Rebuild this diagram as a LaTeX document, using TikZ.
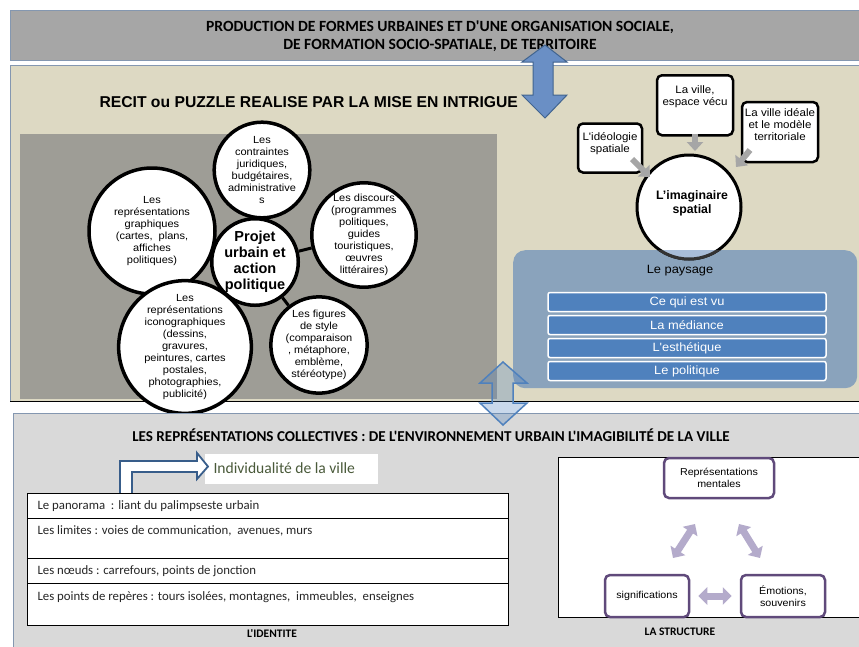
\documentclass[tikz,border=0pt]{standalone}
\usepackage{fontspec}
\setmainfont{Liberation Sans}
\newfontfamily\calib{Carlito}
\newfontfamily\wsans[FakeStretch=1.07]{Liberation Sans}
\usetikzlibrary{arrows.meta,backgrounds}
\definecolor{topgray}{HTML}{A6A6A6}
\definecolor{bandedge}{HTML}{8497B0}
\definecolor{beige}{HTML}{DDD9C3}
\definecolor{innergray}{HTML}{9E9D96}
\definecolor{paysage}{HTML}{8AA3BC}
\definecolor{barblue}{HTML}{4F81BD}
\definecolor{arrowblue}{HTML}{6A8FC5}
\definecolor{arrowedge}{HTML}{41648F}
\definecolor{lowgray}{HTML}{D9D9D9}
\definecolor{purp}{HTML}{604A7B}
\definecolor{lav}{HTML}{B4ABCB}
\definecolor{greentxt}{HTML}{4A5A3A}
\definecolor{darkblue}{HTML}{385D8A}
\definecolor{lightcirc}{HTML}{A8BDD8}
\tikzset{
  bub/.style={circle,draw=black,line width=3.5pt,fill=white,inner sep=0pt,align=center,font=\wsans\fontsize{10.3}{12}\selectfont},
  link/.style={line width=3pt,black},
  ibox/.style={rectangle,rounded corners=5pt,draw=black,line width=2.5pt,fill=white,align=center,inner sep=0pt},
  itext/.style={font=\wsans\fontsize{10.8}{12}\selectfont,align=center},
  bar/.style={rectangle,rounded corners=2pt,draw=white,line width=1.5pt,fill=barblue,text=white,minimum width=278pt,minimum height=19pt,inner sep=0pt,font=\wsans\fontsize{12}{14}\selectfont},
  pbox/.style={rectangle,rounded corners=5pt,draw=purp,line width=2.5pt,fill=white,align=center,inner sep=0pt,font=\wsans\fontsize{10}{11.5}\selectfont},
  grayarr/.style={line width=6pt,topgray,-{Triangle[width=16pt,length=9pt]}},
  lavarr/.style={line width=7pt,lav,{Triangle[width=17pt,length=9pt]}-{Triangle[width=17pt,length=9pt]}},
  rowtxt/.style={anchor=west,font=\calib\fontsize{12.8}{14}\selectfont,text=black!85}
}
\begin{document}
\begin{tikzpicture}[x=1pt,y=-1pt]
\useasboundingbox (0,0) rectangle (859,646);
% top band
\fill[white] (0,0) rectangle (859,646);
\draw[bandedge,fill=topgray,line width=1pt] (10,10) rectangle (875,60);
\node[font=\calib\bfseries\fontsize{15.6}{18}\selectfont,align=center] (toptitle) at (440,36) {PRODUCTION DE FORMES URBAINES ET D'UNE ORGANISATION SOCIALE,\\DE FORMATION SOCIO-SPATIALE, DE TERRITOIRE};
% beige panel
\draw[bandedge,fill=beige,line width=1pt] (10,65) rectangle (875,401);
\draw[black,line width=1pt] (10,401) -- (859,401);
\node[font=\bfseries\fontsize{15.7}{18}\selectfont,anchor=west] (recit) at (96,102) {RECIT ou PUZZLE REALISE PAR LA MISE EN INTRIGUE};
\fill[innergray] (20,134) rectangle (497,399);
% circles
\node[bub,minimum size=76pt,font=\bfseries\fontsize{14.5}{16}\selectfont] (proj) at (255,262) {Projet\\urbain et\\action\\politique};
\node[bub,minimum size=90pt] (cont) at (262,170) {Les\\contraintes\\juridiques,\\budgétaires,\\administrative\\s};
\node[bub,minimum size=126pt] (graph) at (152,231) {Les\\représentations\\graphiques\\(cartes,\ \ plans,\\affiches\\politiques)};
\node[bub,minimum size=96pt] (disc) at (364,235) {Les discours\\(programmes\\politiques,\\guides\\touristiques,\\œuvres\\littéraires)};
\node[bub,minimum size=122pt] (icon) at (185,347) {Les\\représentations\\iconographiques\\(dessins,\\gravures,\\peintures, cartes\\postales,\\photographies,\\publicité)};
\node[bub,minimum size=94pt] (fig) at (319,345) {Les figures\\de style\\(comparaison\\, métaphore,\\emblème,\\stéréotype)};
\draw[link] (proj) -- (cont);
\draw[link] (proj) -- (graph);
\draw[link] (proj) -- (disc);
\draw[link] (proj) -- (icon);
\draw[link] (proj) -- (fig);
% paysage panel
\node[rectangle,rounded corners=12pt,fill=paysage,minimum width=344pt,minimum height=138pt,anchor=north west,inner sep=0pt] (pay) at (513,250) {};
% imaginaire circle
\node[circle,draw=black,line width=3pt,fill=white,minimum size=104pt,inner sep=0pt] (imag) at (689,207) {};
\begin{scope}
\clip[rounded corners=12pt] (513,250) rectangle (857,388);
\fill[lightcirc] (imag.center) circle (52pt);
\draw[black!80,line width=3pt] (imag.center) circle (52pt);
\end{scope}
\node[font=\bfseries\fontsize{12.3}{14}\selectfont,align=center] (imagt) at (692,203) {L'imaginaire\\spatial};
\node[font=\wsans\fontsize{12}{14}\selectfont] (paylabel) at (680,271) {Le paysage};
\node[bar] (b1) at (687,302) {Ce qui est vu};
\node[bar] (b2) at (687,325) {La médiance};
\node[bar] (b3) at (687,348) {L'esthétique};
\node[bar] (b4) at (687,371) {Le politique};
% boxes around imaginaire
\node[ibox,minimum width=64pt,minimum height=49pt] (ideo) at (610,148) {};
\node[itext] (ideot) at (610,144) {L'idéologie\\spatiale};
\node[ibox,minimum width=76pt,minimum height=60pt,anchor=north] (vecu) at (695,74) {};
\node[itext] (vecut) at (695,97) {La ville,\\espace vécu};
\node[ibox,minimum width=76pt,minimum height=60pt] (ideale) at (780,132) {};
\node[itext] (idealet) at (780,125) {La ville idéale\\et le modèle\\territoriale};
\coordinate (ga1) at (632,159);
\coordinate (ga1e) at (650,177);
\draw[grayarr] (ga1) -- (ga1e);
\coordinate (ga2) at (695,134);
\coordinate (ga2e) at (695,151);
\draw[grayarr] (ga2) -- (ga2e);
\coordinate (ga3) at (750,150);
\coordinate (ga3e) at (736,167);
\draw[grayarr] (ga3) -- (ga3e);
% top double arrow
\draw[arrowedge,fill=arrowblue,line width=1pt,line join=miter] (545,45) -- (567,62) -- (553,62) -- (553,95) -- (567,95) -- (545,118) -- (522,95) -- (533,95) -- (533,62) -- (522,62) -- cycle;
% lower panel
\draw[bandedge,fill=lowgray,line width=1pt] (13,413) rectangle (875,660);
\node[font=\calib\bfseries\fontsize{15.1}{17}\selectfont] (lowtitle) at (431,435) {LES REPRÉSENTATIONS COLLECTIVES : DE L'ENVIRONNEMENT URBAIN L'IMAGIBILITÉ DE LA VILLE};
% bottom double arrow
\draw[barblue,fill=barblue,fill opacity=0.3,line width=1.5pt,line join=miter] (503,362) -- (527,383) -- (513,383) -- (513,403) -- (527,403) -- (503,425) -- (480,403) -- (492,403) -- (492,383) -- (480,383) -- cycle;
% identite table
\node[rectangle,fill=white,minimum width=173pt,minimum height=30pt,anchor=west,inner sep=0pt] (indiv) at (205,469) {};
\node[font=\calib\fontsize{15.6}{17}\selectfont,text=greentxt,anchor=west] (indivt) at (210,468) {Individualité de la ville};
\draw[darkblue,fill=white,line width=1.8pt,line join=miter] (120,494) -- (120,461) -- (197,461) -- (197,453) -- (208,466.5) -- (197,479) -- (197,472) -- (132,472) -- (132,494) -- cycle;
\draw[black,line width=0.8pt,fill=white] (27,493) rectangle (508,625);
\draw[black,line width=0.8pt] (27,518) -- (508,518);
\draw[black,line width=0.8pt] (27,558) -- (508,558);
\draw[black,line width=0.8pt] (27,583) -- (508,583);
\node[rowtxt] (r1) at (34,506) {Le panorama\ \ : liant du palimpseste\ urbain};
\node[rowtxt] (r2) at (34,531) {Les limites : voies de communication,\ \ avenues, murs};
\node[rowtxt] (r3) at (34,571) {Les nœuds : carrefours, points de jonction};
\node[rowtxt] (r4) at (34,597) {Les points de repères : tours isolées, montagnes,\ \ immeubles,\ \ enseignes};
\node[font=\calib\bfseries\fontsize{11.5}{13}\selectfont] (ident) at (272,634) {L'IDENTITE};
% structure
\draw[black,line width=0.6pt,fill=white] (558,457) rectangle (875,617);
\node[pbox,minimum width=110pt,minimum height=40pt] (rep) at (719,478) {Représentations\\mentales};
\node[pbox,minimum width=84pt,minimum height=42pt] (sig) at (647,596) {significations};
\node[pbox,minimum width=84pt,minimum height=42pt] (emo) at (783,596) {Émotions,\\souvenirs};
\coordinate (l1a) at (695,524);
\coordinate (l1b) at (673,558);
\coordinate (l2a) at (739,524);
\coordinate (l2b) at (760,558);
\draw[lavarr] (l1a) -- (l1b);
\draw[lavarr] (l2a) -- (l2b);
\draw[lavarr] ([xshift=8pt]sig.east) -- ([xshift=-8pt]emo.west);
\node[font=\calib\bfseries\fontsize{11.5}{13}\selectfont] (struct) at (680,632) {LA STRUCTURE};
\end{tikzpicture}
\end{document}
